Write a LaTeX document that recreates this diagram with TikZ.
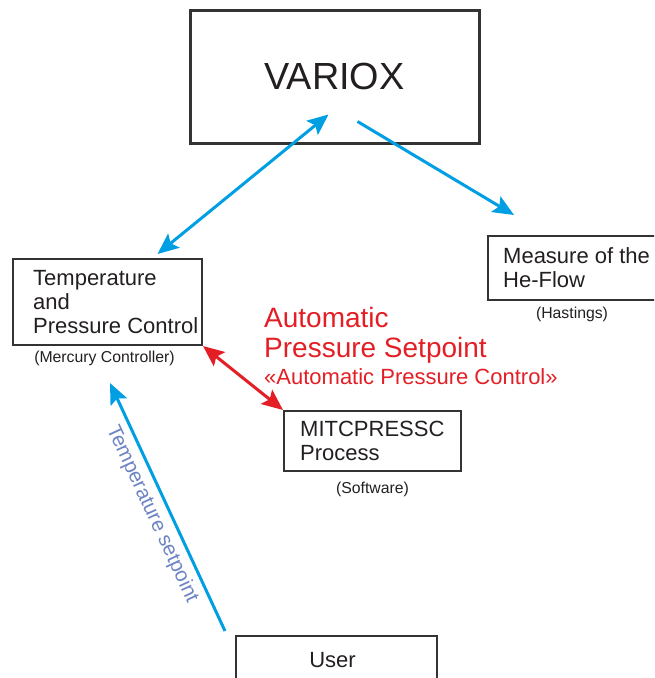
\documentclass[tikz,border=0pt]{standalone}
\usepackage{fontspec}
\setmainfont{Liberation Sans}
\usetikzlibrary{calc,arrows.meta}
\usetikzlibrary{positioning, quotes}

\definecolor{flowblue}{HTML}{009FE3}
\definecolor{flowred}{HTML}{E31E24}
\definecolor{setpblue}{HTML}{6C83C4}
\definecolor{boxgray}{HTML}{333333}
\definecolor{inkgray}{HTML}{231F20}

\tikzset{
  box/.style={draw=boxgray, line width=2pt, rectangle},
  boxtxt/.style={inner sep=0pt, align=left, text=inkgray, font=\fontsize{22}{24}\selectfont},
  subcap/.style={inner sep=0pt, text=inkgray, font=\fontsize{15.8}{18}\selectfont},
  redtxt/.style={inner sep=0pt, align=left, text=flowred, font=\fontsize{22}{24}\selectfont},
  flow/.style={line width=3pt, draw=flowblue},
  setp/.style={text=setpblue, inner sep=6pt, font=\fontsize{20.5}{23}\selectfont}
}

\begin{document}
\begin{tikzpicture}[x=1pt, y=-1pt, >={Stealth[length=21pt, width=18pt, inset=4pt]}]
\useasboundingbox (0,0) rectangle (654,678);
\clip (0,0) rectangle (654,678);

% boxes
\node[box, boxtxt, line width=3pt, minimum width=289pt, minimum height=133pt, font=\fontsize{37.8}{40}\selectfont] (variox) at (334.5,76.5) {VARIOX};

\node[box, minimum width=189pt, minimum height=86pt] (tpc) at (107.5,302) {};
\node[boxtxt, right=21pt of tpc.west] (tpc-txt) {Temperature\\and\\Pressure Control};
\node[subcap, below=5pt of tpc, xshift=-3pt] (merc) {(Mercury Controller)};

\node[box, minimum width=168pt, minimum height=64pt] (meas) at (572,268) {};
\node[boxtxt, right=16pt of meas.west] (meas-txt) {Measure of the\\He-Flow};
\node[subcap, below=6pt of meas] (hast) {(Hastings)};

\node[box, minimum width=177pt, minimum height=60pt] (mitc) at (372.5,441) {};
\node[boxtxt, right=17pt of mitc.west] (mitc-txt) {MITCPRESSC\\Process};
\node[subcap, below=10pt of mitc] (soft) {(Software)};

\node[box, boxtxt, minimum width=201pt, minimum height=48pt] (user) at (336.5,660) {\hspace*{-8pt}User};

% red label
\node[redtxt, anchor=north west, font=\fontsize{28}{30}\selectfont] (aps) at (264,307) {Automatic\\Pressure Setpoint};
\node[redtxt, below=5pt of aps.south west, anchor=north west] (apc) {«Automatic Pressure Control»};

% free ends
\coordinate (vx-a) at ([shift={(-6,-30)}]variox.south);
\coordinate (vx-b) at ([shift={(23,-23)}]variox.south);
\coordinate (tpc-a) at ([shift={(50,-4)}]tpc.north);
\coordinate (tpc-b) at ([shift={(2.5,37)}]tpc.south);
\coordinate (meas-a) at ([shift={(-58,-20)}]meas.north);
\coordinate (user-a) at ([shift={(-10,-4)}]user.north west);

% arrows
\draw[flow, <->] (tpc-a) -- (vx-a);
\draw[flow, ->] (vx-b) -- (meas-a);
\draw[flow, draw=flowred, <->] (tpc.south east) -- (mitc.north west);
\draw[flow, ->] (user-a) -- (tpc-b) node[midway, sloped, below, setp] {Temperature setpoint};
\end{tikzpicture}
\end{document}
